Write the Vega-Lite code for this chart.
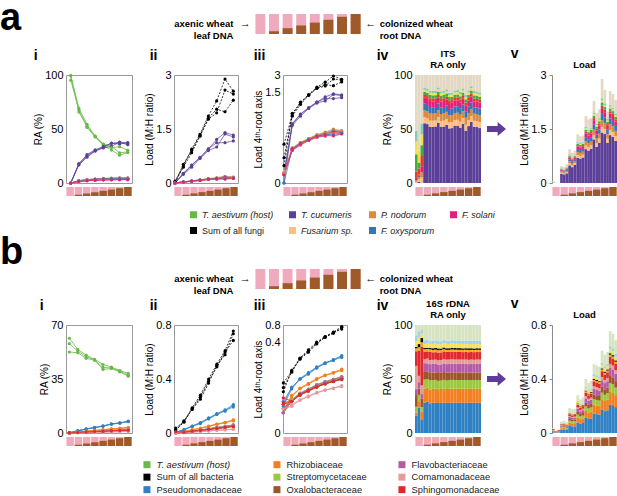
{
"$schema":"https://vega.github.io/schema/vega-lite/v6.json",
"padding":0,
"background":"white",
"config":{
 "view":{"stroke":null},
 "font":"Liberation Sans",
 "axis":{"labelFont":"Liberation Sans","labelFontSize":11,"labelColor":"#000000","titleFont":"Liberation Sans","titleFontSize":10,"titleFontWeight":"normal","titleColor":"#000000","grid":false,"ticks":false,"domain":false,"labelPadding":3,"titlePadding":1},
 "title":{"font":"Liberation Sans","fontWeight":"bold","color":"#000000"},
 "legend":{"labelFont":"Liberation Sans","labelColor":"#222222"}
},
"datasets":{
 "cond":[{"c":1,"f":0},{"c":2,"f":0.14},{"c":3,"f":0.29},{"c":4,"f":0.43},{"c":5,"f":0.57},{"c":6,"f":0.71},{"c":7,"f":0.86},{"c":8,"f":1}],
 "fr":[
{"c":1,"r":1,"W":95.2,"A":0,"B":0,"C":0,"D":0,"E":0},
{"c":1,"r":2,"W":99.1,"A":0,"B":0,"C":0,"D":0,"E":0},
{"c":1,"r":3,"W":99.8,"A":0,"B":0,"C":0,"D":0,"E":0},
{"c":2,"r":1,"W":68,"A":17.7,"B":1.8,"C":2.1,"D":1.9,"E":1.4},
{"c":2,"r":2,"W":69.4,"A":16.7,"B":1.7,"C":2,"D":1.8,"E":1.4},
{"c":2,"r":3,"W":65.8,"A":17.8,"B":1.9,"C":2.2,"D":2.1,"E":1.5},
{"c":3,"r":1,"W":51.5,"A":25.3,"B":2.7,"C":3.2,"D":2.9,"E":2.2},
{"c":3,"r":2,"W":54.3,"A":23.9,"B":2.5,"C":3,"D":2.7,"E":2.1},
{"c":3,"r":3,"W":52.6,"A":26.3,"B":2.6,"C":3.1,"D":2.8,"E":2.1},
{"c":4,"r":1,"W":42.6,"A":29.8,"B":3.2,"C":3.7,"D":3.4,"E":2.6},
{"c":4,"r":2,"W":43.5,"A":29.6,"B":3.1,"C":3.7,"D":3.4,"E":2.5},
{"c":4,"r":3,"W":43.1,"A":30.6,"B":3.1,"C":3.7,"D":3.4,"E":2.6},
{"c":5,"r":1,"W":35,"A":32.9,"B":3.6,"C":4.2,"D":3.9,"E":2.9},
{"c":5,"r":2,"W":36.1,"A":32.5,"B":3.5,"C":4.2,"D":3.8,"E":2.9},
{"c":5,"r":3,"W":35.7,"A":33.9,"B":3.5,"C":4.2,"D":3.9,"E":2.9},
{"c":6,"r":1,"W":30.5,"A":36.9,"B":3.8,"C":4.5,"D":4.2,"E":3.1},
{"c":6,"r":2,"W":33.9,"A":33.9,"B":3.6,"C":4.3,"D":4,"E":3},
{"c":6,"r":3,"W":32.8,"A":36.7,"B":3.7,"C":4.4,"D":4,"E":3},
{"c":7,"r":1,"W":25.7,"A":36,"B":4.1,"C":4.8,"D":4.5,"E":3.3},
{"c":7,"r":2,"W":27.9,"A":38,"B":4,"C":4.7,"D":4.3,"E":3.2},
{"c":7,"r":3,"W":33.6,"A":37.6,"B":3.7,"C":4.3,"D":4,"E":3},
{"c":8,"r":1,"W":28.2,"A":37.5,"B":4,"C":4.7,"D":4.3,"E":3.2},
{"c":8,"r":2,"W":28.8,"A":36.9,"B":3.9,"C":4.6,"D":4.3,"E":3.2},
{"c":8,"r":3,"W":30.3,"A":35.5,"B":3.8,"C":4.5,"D":4.2,"E":3.1}
 ],
 "fl":[
{"c":1,"r":1,"s":1,"Z":0.05,"A":0.0002,"B":0.0004,"C":0.0003,"D":0.0002,"E":0.0002,"F":0.004,"G":0.008,"H":0.006,"I":0.005,"J":0.0257},
{"c":1,"r":2,"s":2,"Z":0.009,"A":0.0001,"B":0.0002,"C":0.0002,"D":0.0001,"E":0.0001,"F":0.0005,"G":0.0005,"H":0.001,"I":0,"J":0.0063},
{"c":1,"r":3,"s":3,"Z":0.002,"A":0,"B":0.0001,"C":0.0001,"D":0,"E":0.0001,"F":0.0002,"G":0.0002,"H":0.0002,"I":0.0002,"J":0.0009},
{"c":2,"r":1,"s":4,"Z":0.47,"A":0.26,"B":0.026,"C":0.031,"D":0.028,"E":0.026,"F":0.012,"G":0.014,"H":0.009,"I":0.01,"J":0.054},
{"c":2,"r":2,"s":5,"Z":0.44,"A":0.24,"B":0.024,"C":0.028,"D":0.026,"E":0.025,"F":0.011,"G":0.013,"H":0.009,"I":0.009,"J":0.055},
{"c":2,"r":3,"s":6,"Z":0.52,"A":0.27,"B":0.03,"C":0.035,"D":0.031,"E":0.029,"F":0.013,"G":0.016,"H":0.01,"I":0.011,"J":0.075},
{"c":3,"r":1,"s":7,"Z":0.94,"A":0.49,"B":0.052,"C":0.061,"D":0.056,"E":0.052,"F":0.024,"G":0.028,"H":0.019,"I":0.019,"J":0.139},
{"c":3,"r":2,"s":8,"Z":0.84,"A":0.44,"B":0.046,"C":0.055,"D":0.05,"E":0.046,"F":0.021,"G":0.025,"H":0.017,"I":0.017,"J":0.123},
{"c":3,"r":3,"s":9,"Z":0.9,"A":0.5,"B":0.05,"C":0.058,"D":0.054,"E":0.05,"F":0.022,"G":0.027,"H":0.018,"I":0.018,"J":0.103},
{"c":4,"r":1,"s":10,"Z":1.35,"A":0.7,"B":0.074,"C":0.088,"D":0.081,"E":0.074,"F":0.034,"G":0.041,"H":0.027,"I":0.027,"J":0.204},
{"c":4,"r":2,"s":11,"Z":1.3,"A":0.68,"B":0.072,"C":0.085,"D":0.078,"E":0.072,"F":0.033,"G":0.039,"H":0.026,"I":0.026,"J":0.189},
{"c":4,"r":3,"s":12,"Z":1.32,"A":0.71,"B":0.073,"C":0.086,"D":0.079,"E":0.073,"F":0.033,"G":0.04,"H":0.026,"I":0.026,"J":0.174},
{"c":5,"r":1,"s":13,"Z":1.86,"A":0.94,"B":0.102,"C":0.121,"D":0.112,"E":0.102,"F":0.047,"G":0.056,"H":0.037,"I":0.037,"J":0.306},
{"c":5,"r":2,"s":14,"Z":1.77,"A":0.9,"B":0.097,"C":0.115,"D":0.106,"E":0.097,"F":0.044,"G":0.053,"H":0.035,"I":0.035,"J":0.288},
{"c":5,"r":3,"s":15,"Z":1.8,"A":0.95,"B":0.099,"C":0.117,"D":0.108,"E":0.099,"F":0.045,"G":0.054,"H":0.036,"I":0.036,"J":0.256},
{"c":6,"r":1,"s":16,"Z":2.28,"A":1.21,"B":0.125,"C":0.148,"D":0.137,"E":0.125,"F":0.057,"G":0.068,"H":0.046,"I":0.046,"J":0.318},
{"c":6,"r":2,"s":17,"Z":1.95,"A":1,"B":0.107,"C":0.127,"D":0.117,"E":0.107,"F":0.049,"G":0.059,"H":0.039,"I":0.039,"J":0.306},
{"c":6,"r":3,"s":18,"Z":2.05,"A":1.12,"B":0.113,"C":0.133,"D":0.123,"E":0.113,"F":0.051,"G":0.062,"H":0.041,"I":0.041,"J":0.253},
{"c":7,"r":1,"s":19,"Z":2.89,"A":1.4,"B":0.159,"C":0.188,"D":0.173,"E":0.159,"F":0.072,"G":0.087,"H":0.058,"I":0.058,"J":0.536},
{"c":7,"r":2,"s":20,"Z":2.58,"A":1.36,"B":0.142,"C":0.168,"D":0.155,"E":0.142,"F":0.065,"G":0.077,"H":0.052,"I":0.052,"J":0.367},
{"c":7,"r":3,"s":21,"Z":1.98,"A":1.12,"B":0.109,"C":0.129,"D":0.119,"E":0.109,"F":0.05,"G":0.059,"H":0.04,"I":0.04,"J":0.205},
{"c":8,"r":1,"s":22,"Z":2.55,"A":1.33,"B":0.14,"C":0.166,"D":0.153,"E":0.14,"F":0.064,"G":0.077,"H":0.051,"I":0.051,"J":0.378},
{"c":8,"r":2,"s":23,"Z":2.47,"A":1.28,"B":0.136,"C":0.161,"D":0.148,"E":0.136,"F":0.062,"G":0.074,"H":0.049,"I":0.049,"J":0.375},
{"c":8,"r":3,"s":24,"Z":2.3,"A":1.17,"B":0.127,"C":0.15,"D":0.138,"E":0.127,"F":0.058,"G":0.069,"H":0.046,"I":0.046,"J":0.369}
 ],
 "br":[
{"c":1,"r":1,"W":61.4,"A":0.2,"B":0.1,"C":0,"D":0.1,"E":0.1,"F":0.2,"G":0.1},
{"c":1,"r":2,"W":57.9,"A":0.1,"B":0,"C":0,"D":0,"E":0,"F":0.1,"G":0.1},
{"c":1,"r":3,"W":52.5,"A":0.2,"B":0.1,"C":0,"D":0.1,"E":0,"F":0.1,"G":0.2},
{"c":2,"r":1,"W":54.2,"A":1.5,"B":0.7,"C":0.4,"D":0.4,"E":0.4,"F":0.2,"G":0.3},
{"c":2,"r":2,"W":53.1,"A":1.4,"B":0.7,"C":0.4,"D":0.3,"E":0.4,"F":0.2,"G":0.3},
{"c":2,"r":3,"W":52,"A":1.3,"B":0.6,"C":0.4,"D":0.3,"E":0.4,"F":0.2,"G":0.3},
{"c":3,"r":1,"W":50.5,"A":2.7,"B":1.2,"C":0.7,"D":0.6,"E":0.7,"F":0.4,"G":0.6},
{"c":3,"r":2,"W":49.5,"A":2.5,"B":1.1,"C":0.7,"D":0.6,"E":0.7,"F":0.3,"G":0.6},
{"c":3,"r":3,"W":48.4,"A":2.6,"B":1.2,"C":0.7,"D":0.6,"E":0.7,"F":0.4,"G":0.6},
{"c":4,"r":1,"W":47.7,"A":3.6,"B":1.7,"C":1,"D":0.9,"E":1,"F":0.5,"G":0.9},
{"c":4,"r":2,"W":47.5,"A":3.4,"B":1.6,"C":1,"D":0.9,"E":1,"F":0.5,"G":0.8},
{"c":4,"r":3,"W":47.2,"A":3.5,"B":1.6,"C":1,"D":0.9,"E":1,"F":0.5,"G":0.9},
{"c":5,"r":1,"W":44.4,"A":4.6,"B":2.1,"C":1.3,"D":1.1,"E":1.3,"F":0.6,"G":1.1},
{"c":5,"r":2,"W":42.5,"A":4.4,"B":2,"C":1.3,"D":1.1,"E":1.2,"F":0.6,"G":1},
{"c":5,"r":3,"W":41.2,"A":4.5,"B":2,"C":1.2,"D":1.1,"E":1.3,"F":0.6,"G":1.1},
{"c":6,"r":1,"W":42.8,"A":5.9,"B":2.7,"C":1.6,"D":1.4,"E":1.6,"F":0.8,"G":1.4},
{"c":6,"r":2,"W":42.2,"A":5.8,"B":2.6,"C":1.6,"D":1.4,"E":1.6,"F":0.8,"G":1.3},
{"c":6,"r":3,"W":41.8,"A":5.7,"B":2.6,"C":1.6,"D":1.4,"E":1.6,"F":0.8,"G":1.4},
{"c":7,"r":1,"W":40.5,"A":6.6,"B":3.1,"C":1.9,"D":1.7,"E":1.9,"F":0.9,"G":1.6},
{"c":7,"r":2,"W":40,"A":6.4,"B":3,"C":1.8,"D":1.6,"E":1.8,"F":0.9,"G":1.6},
{"c":7,"r":3,"W":39.6,"A":6.5,"B":3,"C":1.9,"D":1.7,"E":1.9,"F":0.9,"G":1.6},
{"c":8,"r":1,"W":38.6,"A":7.7,"B":3.6,"C":2.2,"D":1.9,"E":2.2,"F":1.1,"G":1.9},
{"c":8,"r":2,"W":37.5,"A":7.5,"B":3.5,"C":2.1,"D":1.9,"E":2.1,"F":1.1,"G":1.8},
{"c":8,"r":3,"W":36.8,"A":7.3,"B":3.4,"C":2.1,"D":1.8,"E":2.1,"F":1,"G":1.8}
 ],
 "bl":[
{"c":1,"r":1,"s":1,"Z":0.037,"A":0.006,"B":0.001,"C":0.002,"D":0.004,"E":0.002,"F":0.008,"G":0.005,"H":0.001,"I":0.0005,"J":0.002,"K":0.002,"L":0.0035},
{"c":1,"r":2,"s":2,"Z":0.017,"A":0.004,"B":0.001,"C":0.001,"D":0.001,"E":0.001,"F":0.001,"G":0.004,"H":0.0005,"I":0.0005,"J":0.001,"K":0.001,"L":0.001},
{"c":1,"r":3,"s":3,"Z":0.025,"A":0.003,"B":0.002,"C":0.001,"D":0.002,"E":0.001,"F":0.002,"G":0.009,"H":0.001,"I":0.001,"J":0.001,"K":0.001,"L":0.001},
{"c":2,"r":1,"s":4,"Z":0.085,"A":0.024,"B":0.011,"C":0.007,"D":0.006,"E":0.007,"F":0.003,"G":0.006,"H":0.002,"I":0.001,"J":0.003,"K":0.003,"L":0.012},
{"c":2,"r":2,"s":5,"Z":0.09,"A":0.026,"B":0.012,"C":0.007,"D":0.006,"E":0.007,"F":0.004,"G":0.006,"H":0.002,"I":0.001,"J":0.004,"K":0.003,"L":0.012},
{"c":2,"r":3,"s":6,"Z":0.08,"A":0.022,"B":0.01,"C":0.007,"D":0.006,"E":0.006,"F":0.003,"G":0.006,"H":0.002,"I":0.001,"J":0.003,"K":0.002,"L":0.012},
{"c":3,"r":1,"s":7,"Z":0.186,"A":0.052,"B":0.024,"C":0.015,"D":0.013,"E":0.015,"F":0.007,"G":0.013,"H":0.004,"I":0.003,"J":0.007,"K":0.006,"L":0.027},
{"c":3,"r":2,"s":8,"Z":0.175,"A":0.049,"B":0.023,"C":0.014,"D":0.012,"E":0.014,"F":0.007,"G":0.012,"H":0.004,"I":0.003,"J":0.007,"K":0.005,"L":0.025},
{"c":3,"r":3,"s":9,"Z":0.18,"A":0.05,"B":0.023,"C":0.014,"D":0.013,"E":0.014,"F":0.007,"G":0.013,"H":0.004,"I":0.003,"J":0.007,"K":0.005,"L":0.027},
{"c":4,"r":1,"s":10,"Z":0.28,"A":0.078,"B":0.036,"C":0.022,"D":0.02,"E":0.022,"F":0.011,"G":0.02,"H":0.006,"I":0.004,"J":0.011,"K":0.008,"L":0.042},
{"c":4,"r":2,"s":11,"Z":0.25,"A":0.07,"B":0.033,"C":0.02,"D":0.018,"E":0.02,"F":0.01,"G":0.018,"H":0.005,"I":0.004,"J":0.01,"K":0.008,"L":0.034},
{"c":4,"r":3,"s":12,"Z":0.265,"A":0.074,"B":0.034,"C":0.021,"D":0.019,"E":0.021,"F":0.011,"G":0.019,"H":0.005,"I":0.004,"J":0.011,"K":0.008,"L":0.038},
{"c":5,"r":1,"s":13,"Z":0.4,"A":0.112,"B":0.052,"C":0.032,"D":0.028,"E":0.032,"F":0.016,"G":0.028,"H":0.008,"I":0.006,"J":0.016,"K":0.012,"L":0.058},
{"c":5,"r":2,"s":14,"Z":0.37,"A":0.104,"B":0.048,"C":0.03,"D":0.026,"E":0.03,"F":0.015,"G":0.026,"H":0.007,"I":0.006,"J":0.015,"K":0.011,"L":0.052},
{"c":5,"r":3,"s":15,"Z":0.385,"A":0.108,"B":0.05,"C":0.031,"D":0.027,"E":0.031,"F":0.015,"G":0.027,"H":0.008,"I":0.006,"J":0.015,"K":0.012,"L":0.055},
{"c":6,"r":1,"s":16,"Z":0.51,"A":0.143,"B":0.066,"C":0.041,"D":0.036,"E":0.041,"F":0.02,"G":0.036,"H":0.01,"I":0.008,"J":0.02,"K":0.015,"L":0.074},
{"c":6,"r":2,"s":17,"Z":0.5,"A":0.14,"B":0.065,"C":0.04,"D":0.035,"E":0.04,"F":0.02,"G":0.035,"H":0.01,"I":0.008,"J":0.02,"K":0.015,"L":0.072},
{"c":6,"r":3,"s":18,"Z":0.49,"A":0.137,"B":0.064,"C":0.039,"D":0.034,"E":0.039,"F":0.02,"G":0.034,"H":0.01,"I":0.007,"J":0.02,"K":0.015,"L":0.071},
{"c":7,"r":1,"s":19,"Z":0.61,"A":0.171,"B":0.079,"C":0.049,"D":0.043,"E":0.049,"F":0.024,"G":0.043,"H":0.012,"I":0.009,"J":0.024,"K":0.018,"L":0.089},
{"c":7,"r":2,"s":20,"Z":0.58,"A":0.162,"B":0.075,"C":0.046,"D":0.041,"E":0.046,"F":0.023,"G":0.041,"H":0.012,"I":0.009,"J":0.023,"K":0.017,"L":0.085},
{"c":7,"r":3,"s":21,"Z":0.6,"A":0.168,"B":0.078,"C":0.048,"D":0.042,"E":0.048,"F":0.024,"G":0.042,"H":0.012,"I":0.009,"J":0.024,"K":0.018,"L":0.087},
{"c":8,"r":1,"s":22,"Z":0.755,"A":0.211,"B":0.098,"C":0.06,"D":0.053,"E":0.06,"F":0.03,"G":0.053,"H":0.015,"I":0.011,"J":0.03,"K":0.023,"L":0.111},
{"c":8,"r":2,"s":23,"Z":0.735,"A":0.206,"B":0.096,"C":0.059,"D":0.051,"E":0.059,"F":0.029,"G":0.051,"H":0.015,"I":0.011,"J":0.029,"K":0.022,"L":0.107},
{"c":8,"r":3,"s":24,"Z":0.686,"A":0.192,"B":0.089,"C":0.055,"D":0.048,"E":0.055,"F":0.027,"G":0.048,"H":0.014,"I":0.01,"J":0.027,"K":0.021,"L":0.1}
 ]
},
"bounds":"flush",
"columns":10,
"align":"each",
"spacing":{"row":0,"column":0},
"resolve":{"scale":{"color":"independent"},"legend":{"color":"independent"}},
"concat":[
 {"width":66,"height":61,"data":{"values":[]},"mark":"point","encoding":{},"title":{"text":"a","anchor":"start","frame":"group","fontSize":38,"baseline":"alphabetic","offset":-54.2}},
 {"width":1,"height":1,"data":{"values":[]},"mark":"point","encoding":{}},
 {"width":1,"height":1,"data":{"values":[]},"mark":"point","encoding":{}},
 {"width":1,"height":1,"data":{"values":[]},"mark":"point","encoding":{}},
 {"width":45,"height":20,"layer":[
  {"data":{"name":"cond"},"mark":{"type":"bar","color":"#efabbd"},"encoding":{"x":{"field":"c","type":"ordinal","scale":{"paddingInner":0.27,"paddingOuter":0.14,"range":[15.5,124.5]},"axis":null},"y":{"datum":1,"type":"quantitative","scale":{"domain":[0,1],"nice":false},"axis":null}}},
  {"data":{"name":"cond"},"mark":{"type":"bar","color":"#9e5a28"},"encoding":{"x":{"field":"c","type":"ordinal","axis":null},"y":{"field":"f","type":"quantitative","axis":null}}},
  {"data":{"name":"cond"},"transform":[{"filter":"datum.c==1"}],"mark":{"type":"text","align":"right","baseline":"middle","fontWeight":"bold","fontSize":9.5,"lineHeight":12,"dx":-27},"encoding":{"x":{"field":"c","type":"ordinal","axis":null},"text":{"value":["axenic wheat","leaf DNA"]}}},
  {"data":{"name":"cond"},"transform":[{"filter":"datum.c==1"}],"mark":{"type":"text","align":"center","baseline":"middle","fontSize":11,"dx":-15},"encoding":{"x":{"field":"c","type":"ordinal","axis":null},"text":{"value":"→"}}},
  {"data":{"name":"cond"},"transform":[{"filter":"datum.c==8"}],"mark":{"type":"text","align":"left","baseline":"middle","fontWeight":"bold","fontSize":9.5,"lineHeight":12,"dx":24},"encoding":{"x":{"field":"c","type":"ordinal","axis":null},"text":{"value":["colonized wheat","root DNA"]}}},
  {"data":{"name":"cond"},"transform":[{"filter":"datum.c==8"}],"mark":{"type":"text","align":"center","baseline":"middle","fontSize":11,"dx":15},"encoding":{"x":{"field":"c","type":"ordinal","axis":null},"text":{"value":"←"}}}
 ]},
 {"width":1,"height":1,"data":{"values":[]},"mark":"point","encoding":{}},
 {"width":1,"height":1,"data":{"values":[]},"mark":"point","encoding":{}},
 {"width":1,"height":1,"data":{"values":[]},"mark":"point","encoding":{}},
 {"width":1,"height":1,"data":{"values":[]},"mark":"point","encoding":{}},
 {"width":1,"height":1,"data":{"values":[]},"mark":"point","encoding":{}},

 {"width":66,"height":112,"data":{"values":[]},"mark":"point","encoding":{}},
 {"width":66,"height":108,"view":{"stroke":"#999999","strokeWidth":1},
  "title":{"text":"i","anchor":"start","frame":"bounds","fontSize":14,"baseline":"alphabetic","offset":-5},
  "data":{"name":"fr"},
  "transform":[{"fold":["W","A","B","C","D","E"],"as":["k","v"]}],
  "encoding":{
   "x":{"field":"c","type":"quantitative","scale":{"domain":[0.42,8.52],"nice":false,"zero":false},"axis":null},
   "y":{"field":"v","type":"quantitative","scale":{"domain":[0,100],"nice":false},"axis":{"values":[0,50,100],"format":".3~r","title":"RA (%)"}},
   "color":{"field":"k","type":"nominal","scale":{"domain":["W","Z","A","B","C","D","E","F","G","H","I","J"],"range":["#68b948","#000000","#5b3f99","#fbbf85","#dd8a3c","#3674b9","#e2207c","#e63a2e","#4aa843","#f1de4b","#80ccbb","#e4d8c5"]},"legend":null},
   "detail":{"field":"r","type":"nominal"}},
  "layer":[{"mark":{"type":"line","strokeWidth":0.8}},{"mark":{"type":"point","filled":true,"size":10,"opacity":1}}]},
 {"width":42,"height":1,"data":{"values":[]},"mark":"point","encoding":{}},
 {"width":64,"height":108,"view":{"stroke":"#999999","strokeWidth":1},
  "title":{"text":"ii","anchor":"start","frame":"bounds","fontSize":14,"baseline":"alphabetic","offset":-5,"dx":5},
  "data":{"name":"fl"},
  "transform":[{"fold":["Z","A","B","C","D","E"],"as":["k","v"]}],
  "encoding":{
   "x":{"field":"c","type":"quantitative","scale":{"domain":[0.88,8.56],"nice":false,"zero":false},"axis":null},
   "y":{"field":"v","type":"quantitative","scale":{"domain":[0,3],"nice":false},"axis":{"values":[0,1.5,3],"format":".3~r","title":"Load (M:H ratio)"}},
   "color":{"field":"k","type":"nominal","scale":{"domain":["W","Z","A","B","C","D","E","F","G","H","I","J"],"range":["#68b948","#000000","#5b3f99","#fbbf85","#dd8a3c","#3674b9","#e2207c","#e63a2e","#4aa843","#f1de4b","#80ccbb","#e4d8c5"]},"legend":null},
   "detail":{"field":"r","type":"nominal"}},
  "layer":[{"mark":{"type":"line","strokeWidth":0.8},"encoding":{"strokeDash":{"condition":{"test":"datum.k==='Z'","value":[2,1.5]},"value":[1,0]}}},{"mark":{"type":"point","filled":true,"size":10,"opacity":1}}]},
 {"width":45,"height":1,"data":{"values":[]},"mark":"point","encoding":{}},
 {"width":64,"height":108,"view":{"stroke":"#999999","strokeWidth":1},
  "title":{"text":"iii","anchor":"start","frame":"bounds","fontSize":14,"baseline":"alphabetic","offset":-5},
  "data":{"name":"fl"},
  "transform":[{"fold":["Z","A","B","C","D","E"],"as":["k","v"]}],
  "encoding":{
   "x":{"field":"c","type":"quantitative","scale":{"domain":[0.88,8.65],"nice":false,"zero":false},"axis":null},
   "y":{"field":"v","type":"quantitative","scale":{"type":"pow","exponent":0.25,"domain":[0,3],"nice":false},"axis":{"values":[0,1.5,3],"format":".3~r","title":"Load 4ᵗʰ-root axis"}},
   "color":{"field":"k","type":"nominal","scale":{"domain":["W","Z","A","B","C","D","E","F","G","H","I","J"],"range":["#68b948","#000000","#5b3f99","#fbbf85","#dd8a3c","#3674b9","#e2207c","#e63a2e","#4aa843","#f1de4b","#80ccbb","#e4d8c5"]},"legend":null},
   "detail":{"field":"r","type":"nominal"}},
  "layer":[{"mark":{"type":"line","strokeWidth":0.8},"encoding":{"strokeDash":{"condition":{"test":"datum.k==='Z'","value":[2,1.5]},"value":[1,0]}}},{"mark":{"type":"point","filled":true,"size":10,"opacity":1}}]},
 {"width":68,"height":1,"data":{"values":[]},"mark":"point","encoding":{}},
 {"width":66,"height":108,
  "title":{"text":"iv","anchor":"start","frame":"bounds","fontSize":14,"baseline":"alphabetic","offset":-24.5,"dx":-6},
  "layer":[
   {"data":{"name":"fl"},
    "transform":[{"fold":["A","B","C","D","E","F","G","H","I","J"],"as":["k","v"]}],
    "mark":{"type":"bar"},
    "encoding":{
     "x":{"field":"s","type":"ordinal","scale":{"paddingInner":0,"paddingOuter":0},"axis":null},
     "y":{"field":"v","type":"quantitative","stack":"normalize","scale":{"domain":[0,1],"nice":false},"axis":{"values":[0,0.5,1],"labelExpr":"datum.value*100","title":"RA (%)"}},
     "color":{"field":"k","type":"nominal","scale":{"domain":["W","Z","A","B","C","D","E","F","G","H","I","J"],"range":["#68b948","#000000","#5b3f99","#fbbf85","#dd8a3c","#3674b9","#e2207c","#e63a2e","#4aa843","#f1de4b","#80ccbb","#e4d8c5"]},"legend":null},
     "order":{"field":"k","type":"ordinal","sort":"ascending"}}},
   {"data":{"values":[{}]},"mark":{"type":"text","fontWeight":"bold","fontSize":9.5,"lineHeight":11,"baseline":"bottom","dy":-16},"encoding":{"y":{"datum":1,"type":"quantitative","axis":{"values":[0,0.5,1],"labelExpr":"datum.value*100","title":"RA (%)"}},"text":{"value":["ITS","RA only"]}}}
  ]},
 {"width":71,"height":108,"data":{"values":[{}]},"mark":{"type":"point","shape":"M-3.105,-0.32L-1.985,-0.32L-1.985,-0.74L-1.105,0L-1.985,0.74L-1.985,0.32L-3.105,0.32Z","filled":true,"color":"#5e3c99","size":361,"opacity":1,"strokeWidth":0},"encoding":{}},
 {"width":65,"height":108,
  "title":{"text":"v","anchor":"start","frame":"bounds","fontSize":14,"baseline":"alphabetic","offset":-12.5,"dx":-9},
  "layer":[
   {"data":{"name":"fl"},
    "transform":[{"fold":["A","B","C","D","E","F","G","H","I","J"],"as":["k","v"]}],
    "mark":{"type":"bar"},
    "encoding":{
     "x":{"field":"s","type":"ordinal","scale":{"paddingInner":0,"paddingOuter":0},"axis":null},
     "y":{"field":"v","type":"quantitative","stack":"zero","scale":{"domain":[0,3],"nice":false},"axis":{"values":[0,1.5,3],"format":".3~r","title":"Load (M:H ratio)","domain":true,"domainColor":"#8a8a8a","ticks":true,"tickColor":"#8a8a8a","tickSize":3}},
     "color":{"field":"k","type":"nominal","scale":{"domain":["W","Z","A","B","C","D","E","F","G","H","I","J"],"range":["#68b948","#000000","#5b3f99","#fbbf85","#dd8a3c","#3674b9","#e2207c","#e63a2e","#4aa843","#f1de4b","#80ccbb","#e4d8c5"]},"legend":null},
     "order":{"field":"k","type":"ordinal","sort":"ascending"}}},
   {"data":{"values":[{}]},"mark":{"type":"text","fontWeight":"bold","fontSize":9.5,"baseline":"bottom","dy":-5.5},"encoding":{"y":{"datum":3,"type":"quantitative","axis":{"values":[0,1.5,3],"format":".3~r","title":"Load (M:H ratio)","domain":true,"domainColor":"#8a8a8a","ticks":true,"tickColor":"#8a8a8a","tickSize":3}},"text":{"value":"Load"}}}
  ]},

 {"width":66,"height":23,"data":{"values":[]},"mark":"point","encoding":{}},
 {"width":66,"height":9,"data":{"name":"cond"},"encoding":{"x":{"field":"c","type":"ordinal","scale":{"paddingInner":0.1,"paddingOuter":0.05},"axis":null}},"layer":[{"mark":{"type":"bar","color":"#efabbd"},"encoding":{"y":{"datum":1,"type":"quantitative","scale":{"domain":[0,1],"nice":false},"axis":null}}},{"mark":{"type":"bar","color":"#9e5a28"},"encoding":{"y":{"field":"f","type":"quantitative","axis":null}}}]},
 {"width":42,"height":1,"data":{"values":[]},"mark":"point","encoding":{}},
 {"width":64,"height":9,"data":{"name":"cond"},"encoding":{"x":{"field":"c","type":"ordinal","scale":{"paddingInner":0.1,"paddingOuter":0.05},"axis":null}},"layer":[{"mark":{"type":"bar","color":"#efabbd"},"encoding":{"y":{"datum":1,"type":"quantitative","scale":{"domain":[0,1],"nice":false},"axis":null}}},{"mark":{"type":"bar","color":"#9e5a28"},"encoding":{"y":{"field":"f","type":"quantitative","axis":null}}}]},
 {"width":45,"height":1,"data":{"values":[]},"mark":"point","encoding":{}},
 {"width":64,"height":9,"data":{"name":"cond"},"encoding":{"x":{"field":"c","type":"ordinal","scale":{"paddingInner":0.1,"paddingOuter":0.05},"axis":null}},"layer":[{"mark":{"type":"bar","color":"#efabbd"},"encoding":{"y":{"datum":1,"type":"quantitative","scale":{"domain":[0,1],"nice":false},"axis":null}}},{"mark":{"type":"bar","color":"#9e5a28"},"encoding":{"y":{"field":"f","type":"quantitative","axis":null}}}]},
 {"width":68,"height":1,"data":{"values":[]},"mark":"point","encoding":{}},
 {"width":66,"height":9,"data":{"name":"cond"},"encoding":{"x":{"field":"c","type":"ordinal","scale":{"paddingInner":0.1,"paddingOuter":0.05},"axis":null}},"layer":[{"mark":{"type":"bar","color":"#efabbd"},"encoding":{"y":{"datum":1,"type":"quantitative","scale":{"domain":[0,1],"nice":false},"axis":null}}},{"mark":{"type":"bar","color":"#9e5a28"},"encoding":{"y":{"field":"f","type":"quantitative","axis":null}}}]},
 {"width":71,"height":1,"data":{"values":[]},"mark":"point","encoding":{}},
 {"width":65,"height":9,"data":{"name":"cond"},"encoding":{"x":{"field":"c","type":"ordinal","scale":{"paddingInner":0.1,"paddingOuter":0.05},"axis":null}},"layer":[{"mark":{"type":"bar","color":"#efabbd"},"encoding":{"y":{"datum":1,"type":"quantitative","scale":{"domain":[0,1],"nice":false},"axis":null}}},{"mark":{"type":"bar","color":"#9e5a28"},"encoding":{"y":{"field":"f","type":"quantitative","axis":null}}}]},

 {"width":66,"height":59,"data":{"values":[]},"mark":"point","encoding":{}},
 {"width":1,"height":1,"data":{"values":[]},"mark":"point","encoding":{}},
 {"width":42,"height":30,"data":{"values":[]},"mark":{"type":"square","opacity":1},
  "encoding":{"color":{"field":"k","type":"nominal","scale":{"domain":["W","Z","A","B","C","D","E","F","G","H","I","J"],"range":["#68b948","#000000","#5b3f99","#fbbf85","#dd8a3c","#3674b9","#e2207c","#e63a2e","#4aa843","#f1de4b","#80ccbb","#e4d8c5"]},
   "legend":{"orient":"none","legendX":57,"legendY":0,"direction":"horizontal","title":null,"columns":4,"values":["W","A","C","E","Z","B","D"],"symbolType":"square","symbolSize":49,"symbolStrokeWidth":0,"symbolOpacity":1,"labelFontSize":9,"labelOffset":4,"columnPadding":14,"rowPadding":6,"gridAlign":"each","labelLimit":200,
    "labelExpr":"datum.value==='W'?'T. aestivum (host)':datum.value==='Z'?'Sum of all fungi':datum.value==='A'?'T. cucumeris':datum.value==='B'?'Fusarium sp.':datum.value==='C'?'P. nodorum':datum.value==='D'?'F. oxysporum':'F. solani'",
    "encode":{"labels":{"update":{"fontStyle":{"signal":"datum.value==='Z'?'normal':'italic'"}}}}}}}},
 {"width":1,"height":1,"data":{"values":[]},"mark":"point","encoding":{}},
 {"width":1,"height":1,"data":{"values":[]},"mark":"point","encoding":{}},
 {"width":1,"height":1,"data":{"values":[]},"mark":"point","encoding":{}},
 {"width":1,"height":1,"data":{"values":[]},"mark":"point","encoding":{}},
 {"width":1,"height":1,"data":{"values":[]},"mark":"point","encoding":{}},
 {"width":1,"height":1,"data":{"values":[]},"mark":"point","encoding":{}},
 {"width":1,"height":1,"data":{"values":[]},"mark":"point","encoding":{}},

 {"width":66,"height":56,"data":{"values":[]},"mark":"point","encoding":{},"title":{"text":"b","anchor":"start","frame":"group","fontSize":38,"baseline":"alphabetic","offset":-32.8}},
 {"width":1,"height":1,"data":{"values":[]},"mark":"point","encoding":{}},
 {"width":1,"height":1,"data":{"values":[]},"mark":"point","encoding":{}},
 {"width":1,"height":1,"data":{"values":[]},"mark":"point","encoding":{}},
 {"width":45,"height":20,"layer":[
  {"data":{"name":"cond"},"mark":{"type":"bar","color":"#efabbd"},"encoding":{"x":{"field":"c","type":"ordinal","scale":{"paddingInner":0.27,"paddingOuter":0.14,"range":[15.5,124.5]},"axis":null},"y":{"datum":1,"type":"quantitative","scale":{"domain":[0,1],"nice":false},"axis":null}}},
  {"data":{"name":"cond"},"mark":{"type":"bar","color":"#9e5a28"},"encoding":{"x":{"field":"c","type":"ordinal","axis":null},"y":{"field":"f","type":"quantitative","axis":null}}},
  {"data":{"name":"cond"},"transform":[{"filter":"datum.c==1"}],"mark":{"type":"text","align":"right","baseline":"middle","fontWeight":"bold","fontSize":9.5,"lineHeight":12,"dx":-27},"encoding":{"x":{"field":"c","type":"ordinal","axis":null},"text":{"value":["axenic wheat","leaf DNA"]}}},
  {"data":{"name":"cond"},"transform":[{"filter":"datum.c==1"}],"mark":{"type":"text","align":"center","baseline":"middle","fontSize":11,"dx":-15},"encoding":{"x":{"field":"c","type":"ordinal","axis":null},"text":{"value":"→"}}},
  {"data":{"name":"cond"},"transform":[{"filter":"datum.c==8"}],"mark":{"type":"text","align":"left","baseline":"middle","fontWeight":"bold","fontSize":9.5,"lineHeight":12,"dx":24},"encoding":{"x":{"field":"c","type":"ordinal","axis":null},"text":{"value":["colonized wheat","root DNA"]}}},
  {"data":{"name":"cond"},"transform":[{"filter":"datum.c==8"}],"mark":{"type":"text","align":"center","baseline":"middle","fontSize":11,"dx":15},"encoding":{"x":{"field":"c","type":"ordinal","axis":null},"text":{"value":"←"}}}
 ]},
 {"width":1,"height":1,"data":{"values":[]},"mark":"point","encoding":{}},
 {"width":1,"height":1,"data":{"values":[]},"mark":"point","encoding":{}},
 {"width":1,"height":1,"data":{"values":[]},"mark":"point","encoding":{}},
 {"width":1,"height":1,"data":{"values":[]},"mark":"point","encoding":{}},
 {"width":1,"height":1,"data":{"values":[]},"mark":"point","encoding":{}},

 {"width":66,"height":112,"data":{"values":[]},"mark":"point","encoding":{}},
 {"width":66,"height":108,"view":{"stroke":"#999999","strokeWidth":1},
  "title":{"text":"i","anchor":"start","frame":"bounds","fontSize":14,"baseline":"alphabetic","offset":-5},
  "data":{"name":"br"},
  "transform":[{"fold":["W","A","B","C","D","E","F","G"],"as":["k","v"]}],
  "encoding":{
   "x":{"field":"c","type":"quantitative","scale":{"domain":[0.6,8.45],"nice":false,"zero":false},"axis":null},
   "y":{"field":"v","type":"quantitative","scale":{"domain":[0,70],"nice":false},"axis":{"values":[0,35,70],"format":".3~r","title":"RA (%)"}},
   "color":{"field":"k","type":"nominal","scale":{"domain":["W","Z","A","B","C","D","E","F","G","H","I","J","K","L"],"range":["#68b948","#000000","#2f81c3","#f47f21","#9cc83f","#9c5628","#b45ba7","#e39b9c","#e0292c","#f9a71c","#111111","#f6e05c","#a3d1e9","#d6e4c4"]},"legend":null},
   "detail":{"field":"r","type":"nominal"}},
  "layer":[{"mark":{"type":"line","strokeWidth":0.8}},{"mark":{"type":"point","filled":true,"size":10,"opacity":1}}]},
 {"width":42,"height":1,"data":{"values":[]},"mark":"point","encoding":{}},
 {"width":64,"height":108,"view":{"stroke":"#999999","strokeWidth":1},
  "title":{"text":"ii","anchor":"start","frame":"bounds","fontSize":14,"baseline":"alphabetic","offset":-5,"dx":5},
  "data":{"name":"bl"},
  "transform":[{"fold":["Z","A","B","C","D","E","F","G"],"as":["k","v"]}],
  "encoding":{
   "x":{"field":"c","type":"quantitative","scale":{"domain":[0.79,8.57],"nice":false,"zero":false},"axis":null},
   "y":{"field":"v","type":"quantitative","scale":{"domain":[0,0.8],"nice":false},"axis":{"values":[0,0.4,0.8],"format":".3~r","title":"Load (M:H ratio)"}},
   "color":{"field":"k","type":"nominal","scale":{"domain":["W","Z","A","B","C","D","E","F","G","H","I","J","K","L"],"range":["#68b948","#000000","#2f81c3","#f47f21","#9cc83f","#9c5628","#b45ba7","#e39b9c","#e0292c","#f9a71c","#111111","#f6e05c","#a3d1e9","#d6e4c4"]},"legend":null},
   "detail":{"field":"r","type":"nominal"}},
  "layer":[{"mark":{"type":"line","strokeWidth":0.8},"encoding":{"strokeDash":{"condition":{"test":"datum.k==='Z'","value":[2,1.5]},"value":[1,0]}}},{"mark":{"type":"point","filled":true,"size":10,"opacity":1}}]},
 {"width":45,"height":1,"data":{"values":[]},"mark":"point","encoding":{}},
 {"width":64,"height":108,"view":{"stroke":"#999999","strokeWidth":1},
  "title":{"text":"iii","anchor":"start","frame":"bounds","fontSize":14,"baseline":"alphabetic","offset":-5},
  "data":{"name":"bl"},
  "transform":[{"fold":["Z","A","B","C","D","E","F","G"],"as":["k","v"]}],
  "encoding":{
   "x":{"field":"c","type":"quantitative","scale":{"domain":[0.96,8.63],"nice":false,"zero":false},"axis":null},
   "y":{"field":"v","type":"quantitative","scale":{"type":"pow","exponent":0.25,"domain":[0,0.8],"nice":false},"axis":{"values":[0,0.4,0.8],"format":".3~r","title":"Load 4ᵗʰ-root axis"}},
   "color":{"field":"k","type":"nominal","scale":{"domain":["W","Z","A","B","C","D","E","F","G","H","I","J","K","L"],"range":["#68b948","#000000","#2f81c3","#f47f21","#9cc83f","#9c5628","#b45ba7","#e39b9c","#e0292c","#f9a71c","#111111","#f6e05c","#a3d1e9","#d6e4c4"]},"legend":null},
   "detail":{"field":"r","type":"nominal"}},
  "layer":[{"mark":{"type":"line","strokeWidth":0.8},"encoding":{"strokeDash":{"condition":{"test":"datum.k==='Z'","value":[2,1.5]},"value":[1,0]}}},{"mark":{"type":"point","filled":true,"size":10,"opacity":1}}]},
 {"width":68,"height":1,"data":{"values":[]},"mark":"point","encoding":{}},
 {"width":66,"height":108,
  "title":{"text":"iv","anchor":"start","frame":"bounds","fontSize":14,"baseline":"alphabetic","offset":-24.5,"dx":-6},
  "layer":[
   {"data":{"name":"bl"},
    "transform":[{"fold":["A","B","C","D","E","F","G","H","I","J","K","L"],"as":["k","v"]}],
    "mark":{"type":"bar"},
    "encoding":{
     "x":{"field":"s","type":"ordinal","scale":{"paddingInner":0,"paddingOuter":0},"axis":null},
     "y":{"field":"v","type":"quantitative","stack":"normalize","scale":{"domain":[0,1],"nice":false},"axis":{"values":[0,0.5,1],"labelExpr":"datum.value*100","title":"RA (%)"}},
     "color":{"field":"k","type":"nominal","scale":{"domain":["W","Z","A","B","C","D","E","F","G","H","I","J","K","L"],"range":["#68b948","#000000","#2f81c3","#f47f21","#9cc83f","#9c5628","#b45ba7","#e39b9c","#e0292c","#f9a71c","#111111","#f6e05c","#a3d1e9","#d6e4c4"]},"legend":null},
     "order":{"field":"k","type":"ordinal","sort":"ascending"}}},
   {"data":{"values":[{}]},"mark":{"type":"text","fontWeight":"bold","fontSize":9.5,"lineHeight":11,"baseline":"bottom","dy":-16},"encoding":{"y":{"datum":1,"type":"quantitative","axis":{"values":[0,0.5,1],"labelExpr":"datum.value*100","title":"RA (%)"}},"text":{"value":["16S rDNA","RA only"]}}}
  ]},
 {"width":71,"height":108,"data":{"values":[{}]},"mark":{"type":"point","shape":"M-3.105,-0.32L-1.985,-0.32L-1.985,-0.74L-1.105,0L-1.985,0.74L-1.985,0.32L-3.105,0.32Z","filled":true,"color":"#5e3c99","size":361,"opacity":1,"strokeWidth":0},"encoding":{}},
 {"width":65,"height":108,
  "title":{"text":"v","anchor":"start","frame":"bounds","fontSize":14,"baseline":"alphabetic","offset":-12.5,"dx":-9},
  "layer":[
   {"data":{"name":"bl"},
    "transform":[{"fold":["A","B","C","D","E","F","G","H","I","J","K","L"],"as":["k","v"]}],
    "mark":{"type":"bar"},
    "encoding":{
     "x":{"field":"s","type":"ordinal","scale":{"paddingInner":0,"paddingOuter":0},"axis":null},
     "y":{"field":"v","type":"quantitative","stack":"zero","scale":{"domain":[0,0.8],"nice":false},"axis":{"values":[0,0.4,0.8],"format":".3~r","title":"Load (M:H ratio)","domain":true,"domainColor":"#8a8a8a","ticks":true,"tickColor":"#8a8a8a","tickSize":3}},
     "color":{"field":"k","type":"nominal","scale":{"domain":["W","Z","A","B","C","D","E","F","G","H","I","J","K","L"],"range":["#68b948","#000000","#2f81c3","#f47f21","#9cc83f","#9c5628","#b45ba7","#e39b9c","#e0292c","#f9a71c","#111111","#f6e05c","#a3d1e9","#d6e4c4"]},"legend":null},
     "order":{"field":"k","type":"ordinal","sort":"ascending"}}},
   {"data":{"values":[{}]},"mark":{"type":"text","fontWeight":"bold","fontSize":9.5,"baseline":"bottom","dy":-5.5},"encoding":{"y":{"datum":0.8,"type":"quantitative","axis":{"values":[0,0.4,0.8],"format":".3~r","title":"Load (M:H ratio)","domain":true,"domainColor":"#8a8a8a","ticks":true,"tickColor":"#8a8a8a","tickSize":3}},"text":{"value":"Load"}}}
  ]},

 {"width":66,"height":24,"data":{"values":[]},"mark":"point","encoding":{}},
 {"width":66,"height":9,"data":{"name":"cond"},"encoding":{"x":{"field":"c","type":"ordinal","scale":{"paddingInner":0.1,"paddingOuter":0.05},"axis":null}},"layer":[{"mark":{"type":"bar","color":"#efabbd"},"encoding":{"y":{"datum":1,"type":"quantitative","scale":{"domain":[0,1],"nice":false},"axis":null}}},{"mark":{"type":"bar","color":"#9e5a28"},"encoding":{"y":{"field":"f","type":"quantitative","axis":null}}}]},
 {"width":42,"height":1,"data":{"values":[]},"mark":"point","encoding":{}},
 {"width":64,"height":9,"data":{"name":"cond"},"encoding":{"x":{"field":"c","type":"ordinal","scale":{"paddingInner":0.1,"paddingOuter":0.05},"axis":null}},"layer":[{"mark":{"type":"bar","color":"#efabbd"},"encoding":{"y":{"datum":1,"type":"quantitative","scale":{"domain":[0,1],"nice":false},"axis":null}}},{"mark":{"type":"bar","color":"#9e5a28"},"encoding":{"y":{"field":"f","type":"quantitative","axis":null}}}]},
 {"width":45,"height":1,"data":{"values":[]},"mark":"point","encoding":{}},
 {"width":64,"height":9,"data":{"name":"cond"},"encoding":{"x":{"field":"c","type":"ordinal","scale":{"paddingInner":0.1,"paddingOuter":0.05},"axis":null}},"layer":[{"mark":{"type":"bar","color":"#efabbd"},"encoding":{"y":{"datum":1,"type":"quantitative","scale":{"domain":[0,1],"nice":false},"axis":null}}},{"mark":{"type":"bar","color":"#9e5a28"},"encoding":{"y":{"field":"f","type":"quantitative","axis":null}}}]},
 {"width":68,"height":1,"data":{"values":[]},"mark":"point","encoding":{}},
 {"width":66,"height":9,"data":{"name":"cond"},"encoding":{"x":{"field":"c","type":"ordinal","scale":{"paddingInner":0.1,"paddingOuter":0.05},"axis":null}},"layer":[{"mark":{"type":"bar","color":"#efabbd"},"encoding":{"y":{"datum":1,"type":"quantitative","scale":{"domain":[0,1],"nice":false},"axis":null}}},{"mark":{"type":"bar","color":"#9e5a28"},"encoding":{"y":{"field":"f","type":"quantitative","axis":null}}}]},
 {"width":71,"height":1,"data":{"values":[]},"mark":"point","encoding":{}},
 {"width":65,"height":9,"data":{"name":"cond"},"encoding":{"x":{"field":"c","type":"ordinal","scale":{"paddingInner":0.1,"paddingOuter":0.05},"axis":null}},"layer":[{"mark":{"type":"bar","color":"#efabbd"},"encoding":{"y":{"datum":1,"type":"quantitative","scale":{"domain":[0,1],"nice":false},"axis":null}}},{"mark":{"type":"bar","color":"#9e5a28"},"encoding":{"y":{"field":"f","type":"quantitative","axis":null}}}]},

 {"width":66,"height":30,"data":{"values":[]},"mark":"point","encoding":{}},
 {"width":1,"height":1,"data":{"values":[]},"mark":"point","encoding":{}},
 {"width":42,"height":30,"data":{"values":[]},"mark":{"type":"square","opacity":1},
  "encoding":{"color":{"field":"k","type":"nominal","scale":{"domain":["W","Z","A","B","C","D","E","F","G","H","I","J","K","L"],"range":["#68b948","#000000","#2f81c3","#f47f21","#9cc83f","#9c5628","#b45ba7","#e39b9c","#e0292c","#f9a71c","#111111","#f6e05c","#a3d1e9","#d6e4c4"]},
   "legend":{"orient":"none","legendX":10.3,"legendY":-1,"direction":"horizontal","title":null,"columns":3,"values":["W","B","E","Z","C","F","A","D","G"],"symbolType":"square","symbolSize":49,"symbolStrokeWidth":0,"symbolOpacity":1,"labelFontSize":9.3,"labelOffset":5,"columnPadding":30,"rowPadding":2.5,"gridAlign":"each","labelLimit":200,
    "labelExpr":"datum.value==='W'?'T. aestivum (host)':datum.value==='Z'?'Sum of all bacteria':datum.value==='A'?'Pseudomonadaceae':datum.value==='B'?'Rhizobiaceae':datum.value==='C'?'Streptomycetaceae':datum.value==='D'?'Oxalobacteraceae':datum.value==='E'?'Flavobacteriaceae':datum.value==='F'?'Comamonadaceae':'Sphingomonadaceae'",
    "encode":{"labels":{"update":{"fontStyle":{"signal":"datum.value==='W'?'italic':'normal'"}}}}}}}},
 {"width":1,"height":1,"data":{"values":[]},"mark":"point","encoding":{}},
 {"width":1,"height":1,"data":{"values":[]},"mark":"point","encoding":{}},
 {"width":1,"height":1,"data":{"values":[]},"mark":"point","encoding":{}},
 {"width":1,"height":1,"data":{"values":[]},"mark":"point","encoding":{}},
 {"width":1,"height":1,"data":{"values":[]},"mark":"point","encoding":{}},
 {"width":1,"height":1,"data":{"values":[]},"mark":"point","encoding":{}},
 {"width":1,"height":1,"data":{"values":[]},"mark":"point","encoding":{}}
]
}
